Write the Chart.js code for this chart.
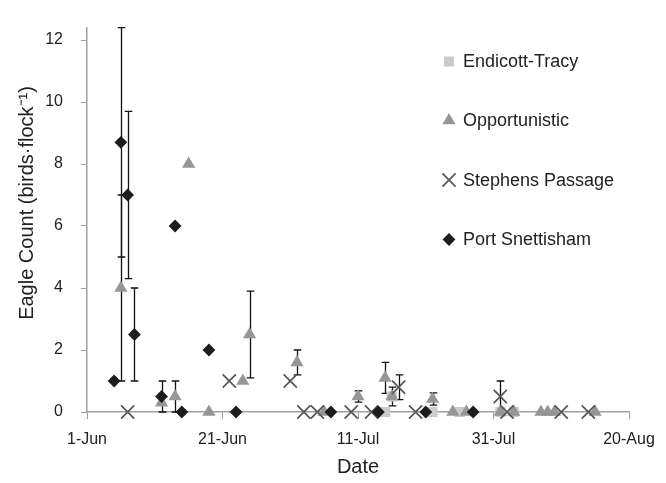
<!DOCTYPE html>
<html>
<head>
<meta charset="utf-8">
<script src="https://cdn.jsdelivr.net/npm/chart.js@4.4.1/dist/chart.umd.min.js"></script>
<style>
html,body{margin:0;padding:0;background:#fff;}
canvas{display:block;}
</style>
</head>
<body>
<canvas id="grafico" width="666" height="483"></canvas>
<script>
const FUENTE='"Liberation Sans", Arial, sans-serif';
const TEXTO='#222';
const EJE='#a0a0a0';

// ticks (x = days since 1-Jun)
const dateTickDays=[0,20,40,60,80];
const dateTickLabels=['1-Jun','21-Jun','11-Jul','31-Jul','20-Aug'];
const countTicks=[0,2,4,6,8,10,12];

// series: day, mean count, +/- error (null = no bar)
const endicottDays=[44,45,51,55,61,63];
const endicottCounts=[0,0.5,0,0,0,0];
const endicottErr=[null,null,null,null,null,null];

const opportDays=[5,11,13,15,18,23,24,31,35,40,44,45,51,54,56,61,63,67,68,69,75];
const opportCounts=[4,0.3,0.5,8,0,1,2.5,1.6,0,0.5,1.1,0.5,0.42,0,0,0,0,0,0,0,0];
const opportErr=[3,null,0.5,null,null,null,1.4,0.4,null,0.18,0.5,0.3,0.2,null,null,null,null,null,null,null,null];

const stephensDays=[6,21,30,32,34,39,42,46,48.5,61,62,70,74];
const stephensCounts=[0,1,1,0,0,0,0,0.8,0,0.5,0,0,0];
const stephensErr=[null,null,null,null,null,null,null,0.4,null,0.5,null,null,null];

const snettDays=[4,5,6,7,11,13,14,18,22,36,43,50,57];
const snettCounts=[1,8.7,7,2.5,0.5,6,0,2,0,0,0,0,0];
const snettErr=[null,3.7,2.7,1.5,0.5,null,null,null,null,null,null,null,null];

const puntos=(dias,vals)=>dias.map((d,i)=>({x:d,y:vals[i]}));

const barrasError={
 id:'barrasError',
 beforeDatasetsDraw(chart){
  const {ctx,scales:{x,y}}=chart;
  ctx.save();
  ctx.strokeStyle='#111';
  ctx.lineWidth=1.3;
  chart.data.datasets.forEach(ds=>{
   (ds.errores||[]).forEach((e,i)=>{
    if(e==null) return;
    const p=ds.data[i];
    const px=Math.round(x.getPixelForValue(p.x))+0.5;
    const y1=y.getPixelForValue(p.y+e);
    const y0=y.getPixelForValue(p.y-e);
    ctx.beginPath();
    ctx.moveTo(px,y0);ctx.lineTo(px,y1);
    ctx.moveTo(px-3.8,y0);ctx.lineTo(px+3.8,y0);
    ctx.moveTo(px-3.8,y1);ctx.lineTo(px+3.8,y1);
    ctx.stroke();
   });
  });
  ctx.restore();
 }
};

// legend + y title drawn by hand to sit where the original has them
const leyenda={
 id:'leyenda',
 afterDraw(chart){
  const ctx=chart.ctx;
  const filas=[61.5,120.5,180,239.5];
  ctx.save();
  ctx.font='18px '+FUENTE;
  ctx.textBaseline='middle';
  ctx.textAlign='left';
  chart.data.datasets.forEach((ds,i)=>{
   const yy=filas[i];
   ctx.fillStyle=ds.backgroundColor;
   ctx.strokeStyle=ds.borderColor;
   ctx.lineWidth=ds.borderWidth||0;
   Chart.helpers.drawPoint(ctx,{pointStyle:ds.pointStyle,radius:ds.pointRadius,borderWidth:ds.borderWidth||0,rotation:0},449,yy);
   ctx.fillStyle=TEXTO;
   ctx.fillText(ds.label,463,yy+1);
  });
  ctx.translate(27,203);
  ctx.rotate(-Math.PI/2);
  ctx.font='20px '+FUENTE;
  ctx.textAlign='center';
  ctx.fillStyle=TEXTO;
  ctx.fillText('Eagle Count (birds·flock⁻¹)',0,0);
  ctx.restore();
 }
};

new Chart(document.getElementById('grafico').getContext('2d'),{
 type:'scatter',
 data:{datasets:[
  {label:'Endicott-Tracy',data:puntos(endicottDays,endicottCounts),errores:endicottErr,clip:false,
   pointStyle:'rect',pointRadius:7.1,backgroundColor:'#cbcbcb',borderColor:'#cbcbcb',borderWidth:0,order:4},
  {label:'Opportunistic',data:puntos(opportDays,opportCounts),errores:opportErr,clip:false,
   pointStyle:'triangle',pointRadius:7.6,backgroundColor:'#969696',borderColor:'#969696',borderWidth:0,order:3},
  {label:'Stephens Passage',data:puntos(stephensDays,stephensCounts),errores:stephensErr,clip:false,
   pointStyle:'crossRot',pointRadius:9.3,backgroundColor:'#555',borderColor:'#555',borderWidth:1.7,order:2},
  {label:'Port Snettisham',data:puntos(snettDays,snettCounts),errores:snettErr,clip:false,
   pointStyle:'rectRot',pointRadius:6.4,backgroundColor:'#1c1c1c',borderColor:'#1c1c1c',borderWidth:0,order:1}
 ]},
 options:{
  responsive:false,animation:false,devicePixelRatio:1,events:[],
  layout:{padding:{left:0,right:37,top:13,bottom:0}},
  plugins:{legend:{display:false},tooltip:{enabled:false}},
  scales:{
   x:{type:'linear',min:0,max:80,
    afterFit(s){s.height=71;},
    afterBuildTicks(s){s.ticks=dateTickDays.map(v=>({value:v}));},
    ticks:{color:TEXTO,font:{family:FUENTE,size:16},padding:11,maxRotation:0,
     callback:v=>dateTickLabels[dateTickDays.indexOf(v)]},
    grid:{drawOnChartArea:false,drawTicks:true,tickLength:7,color:EJE},
    border:{display:true,color:EJE,width:1.5},
    title:{display:true,text:'Date',color:TEXTO,font:{family:FUENTE,size:20},padding:{top:0,bottom:4}}
   },
   y:{type:'linear',min:0,max:12.4,
    afterFit(s){s.width=87;},
    afterBuildTicks(s){s.ticks=countTicks.map(v=>({value:v}));},
    ticks:{color:TEXTO,font:{family:FUENTE,size:16},padding:18},
    grid:{drawOnChartArea:false,drawTicks:true,tickLength:6,color:EJE},
    border:{display:true,color:EJE,width:1.5}
   }
  }
 },
 plugins:[barrasError,leyenda]
});
</script>
</body>
</html>
